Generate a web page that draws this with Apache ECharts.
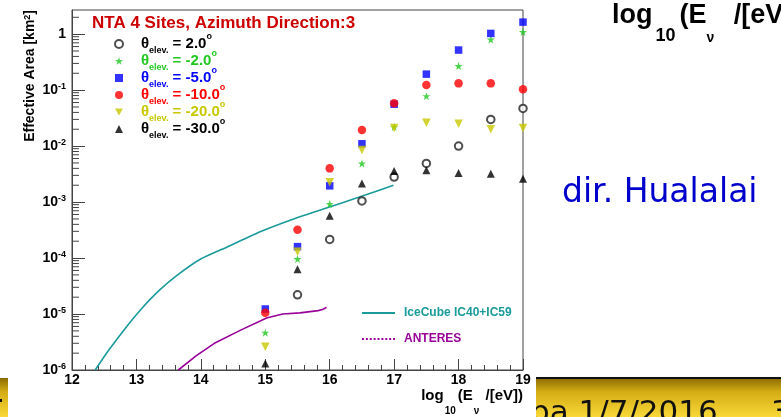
<!DOCTYPE html>
<html>
<head>
<meta charset="utf-8">
<script src="https://cdn.jsdelivr.net/npm/echarts@6/dist/echarts.min.js"></script>
<style>
  html, body { margin: 0; padding: 0; background: #fff; }
  #chart { width: 781px; height: 417px; }
</style>
</head>
<body>
<div id="chart"></div>
<script>
// Neutrino energies, log10(E/eV)
const energies = [15, 15.5, 16, 16.5, 17, 17.5, 18, 18.5, 19];

// Effective area [km^2] per elevation angle
const elevLabels = ['2.0', '-2.0', '-5.0', '-10.0', '-20.0', '-30.0'];
const areaElevP2   = [null,   2.2e-5, 2.15e-4, 1.05e-3, 2.8e-3, 4.9e-3, 1.0e-2, 3.0e-2, 4.7e-2];
const areaElevM2   = [4.65e-6, 9.6e-5, 9.2e-4,  4.9e-3,  2.2e-2, 7.8e-2, 0.27,   0.80,   1.09];
const areaElevM5   = [1.23e-5, 1.6e-4, 1.95e-3, 1.1e-2,  5.6e-2, 0.193,  0.52,   1.03,   1.64];
const areaElevM10  = [1.05e-5, 3.2e-4, 4.0e-3,  1.94e-2, 5.8e-2, 0.123,  0.132,  0.132,  0.104];
const areaElevM20  = [2.6e-6,  1.3e-4, 2.25e-3, 8.5e-3,  2.1e-2, 2.6e-2, 2.5e-2, 2.0e-2, 2.1e-2];
const areaElevM30  = [1.3e-6,  6.3e-5, 5.7e-4,  2.15e-3, 3.6e-3, 3.7e-3, 3.3e-3, 3.2e-3, 2.6e-3];

// Reference curves
const iceCubeE    = [12.36, 12.58, 12.85, 13.10, 13.37, 13.64, 13.99, 14.41, 14.92, 15.44, 15.96, 16.46, 16.99];
const iceCubeArea = [1.0e-6, 2.34e-6, 6.0e-6, 1.32e-5, 2.75e-5, 5.0e-5, 9.5e-5, 1.58e-4, 2.95e-4, 5.0e-4, 7.9e-4, 1.23e-3, 2.0e-3];
const antaresE    = [13.65, 13.93, 14.21, 14.61, 15.02, 15.27, 15.54, 15.82, 15.89, 15.95];
const antaresArea = [1.0e-6, 1.8e-6, 3.0e-6, 5.1e-6, 8.5e-6, 1.0e-5, 1.05e-5, 1.15e-5, 1.2e-5, 1.32e-5];

// Axis settings
const X_MIN = 12, X_MAX = 19;
const Y_MIN = 1e-6, Y_MAX = 2.7;
const yDecades = [-6, -5, -4, -3, -2, -1, 0];
const yMinorMultipliers = [2, 3, 4, 5, 6, 7, 8, 9];

const FONT = '"Liberation Sans", Arial, Helvetica, sans-serif';
const AXIS_COLOR = '#444';

const STAR = 'path://M0,-10L2.4,-3.2L9.5,-3.1L3.8,1.2L5.9,8.1L0,4L-5.9,8.1L-3.8,1.2L-9.5,-3.1L-2.4,-3.2Z';
const DOWN_TRIANGLE = 'path://M0,0L10,0L5,9Z';
const LINE_ICON = 'path://M0,0h34v2h-34z';
const DOTTED_ICON = 'path://M0,0h2v2h-2zM4,0h2v2h-2zM8,0h2v2h-2zM12,0h2v2h-2zM16,0h2v2h-2zM20,0h2v2h-2zM24,0h2v2h-2zM28,0h2v2h-2zM32,0h2v2h-2z';

const elevStyles = [
  { values: areaElevP2,  symbol: 'emptyCircle', size: 7.5, color: '#222', text: '#000', border: 1.2 },
  { values: areaElevM2,  symbol: STAR,          size: 8,   color: '#22c822', text: '#22c822' },
  { values: areaElevM5,  symbol: 'rect',        size: 7.5, color: '#0000ff', text: '#0000ff' },
  { values: areaElevM10, symbol: 'circle',      size: 8.5, color: '#ff0000', text: '#ff0000' },
  { values: areaElevM20, symbol: DOWN_TRIANGLE, size: 8.5, color: '#c8c800', text: '#c8c800' },
  { values: areaElevM30, symbol: 'triangle',    size: 8,   color: '#000', text: '#000' }
];

function pairs(xs, ys) {
  const out = [];
  xs.forEach((x, i) => { if (ys[i] != null) out.push([x, ys[i]]); });
  return out;
}

const scatterSeries = elevStyles.map((s, i) => ({
  name: elevLabels[i],
  type: 'scatter',
  data: pairs(energies, s.values),
  symbol: s.symbol,
  symbolSize: s.size,
  itemStyle: s.symbol === 'emptyCircle'
    ? { color: s.color, borderColor: s.color, borderWidth: s.border }
    : { color: s.color },
  z: 3 + i,
  silent: true
}));

// Log-axis minor ticks (2..9 x 10^n), drawn inward from the left frame
const minorTickValues = [];
yDecades.forEach(d => yMinorMultipliers.forEach(m => {
  const v = m * Math.pow(10, d);
  if (v <= Y_MAX) minorTickValues.push([X_MIN, v]);
}));

const LEG_LH = 23;
function legendRich(color) {
  const base = { fontFamily: FONT, fontWeight: 'bold', color: color, lineHeight: LEG_LH };
  return {
    g: { width: 13, lineHeight: LEG_LH },
    t: Object.assign({}, base, { fontSize: 15, verticalAlign: 'middle' }),
    s: Object.assign({}, base, { fontSize: 9, verticalAlign: 'bottom' }),
    m: Object.assign({}, base, { fontSize: 15, verticalAlign: 'middle' }),
    p: Object.assign({}, base, { fontSize: 9, verticalAlign: 'top' })
  };
}

const gold = () => new echarts.graphic.LinearGradient(0, 0, 0, 1, [
  { offset: 0, color: '#8a6a00' },
  { offset: 0.35, color: '#d4ac14' },
  { offset: 1, color: '#f8d838' }
]);

const chart = echarts.init(document.getElementById('chart'), null, { renderer: 'canvas' });

const option = {
  backgroundColor: '#fff',
  animation: false,
  title: {
    text: 'NTA 4 Sites, Azimuth Direction:3',
    left: 92, top: 15, padding: 0,
    textStyle: { fontFamily: FONT, fontWeight: 'bold', fontSize: 17, color: '#cc0000' }
  },
  grid: {
    left: 72, right: 258, top: 10, bottom: 47,
    show: true, borderColor: AXIS_COLOR, borderWidth: 1, backgroundColor: 'transparent',
    outerBoundsMode: 'none'
  },
  legend: [
    {
      orient: 'vertical', left: 114, top: 44 - LEG_LH / 2, padding: 0, itemGap: 17 - LEG_LH,
      itemWidth: 8, itemHeight: 8, selectedMode: false,
      data: elevLabels.map((n, i) => ({
        name: n,
        textStyle: { color: elevStyles[i].text, rich: legendRich(elevStyles[i].text) }
      })),
      formatter: name => '{g|}{t|θ}{s|elev.}{m| = ' + name + '}{p|o}',
      textStyle: { fontFamily: FONT, fontWeight: 'bold', fontSize: 15 }
    },
    {
      orient: 'vertical', left: 362, top: 307, padding: 0, itemGap: 14,
      itemWidth: 33, itemHeight: 2, selectedMode: false,
      data: [
        { name: 'IceCube IC40+IC59', icon: LINE_ICON, textStyle: { color: '#1a9a9a' } },
        { name: 'ANTERES', icon: DOTTED_ICON, textStyle: { color: '#990099' } }
      ],
      formatter: name => '{g|}' + name,
      textStyle: { fontFamily: FONT, fontWeight: 'bold', fontSize: 12, rich: { g: { width: 4 } } }
    }
  ],
  xAxis: {
    type: 'value', min: X_MIN, max: X_MAX, interval: 1,
    name: '{m|log}{s|10}{m|(E}{s|ν}{m| /[eV])}',
    nameLocation: 'end', nameGap: 0,
    nameTextStyle: {
      align: 'right', verticalAlign: 'top', padding: [18, 0, 0, 0], color: '#000',
      rich: {
        m: { fontFamily: FONT, fontWeight: 'bold', fontSize: 15, verticalAlign: 'top', lineHeight: 28, color: '#000' },
        s: { fontFamily: FONT, fontWeight: 'bold', fontSize: 10, verticalAlign: 'bottom', lineHeight: 28, color: '#000', padding: [0, 2, 0, 1] }
      }
    },
    axisLine: { show: true, onZero: false, lineStyle: { color: AXIS_COLOR, width: 1 } },
    axisTick: { show: true, inside: true, length: 11, lineStyle: { color: AXIS_COLOR } },
    minorTick: { show: true, splitNumber: 5, length: 5, lineStyle: { color: AXIS_COLOR } },
    splitLine: { show: false },
    axisLabel: { fontFamily: FONT, fontWeight: 'bold', fontSize: 14, color: '#000', margin: 3 }
  },
  yAxis: {
    type: 'log', logBase: 10, min: Y_MIN, max: Y_MAX, interval: 1,
    name: 'Effective Area [km{p|2}]',
    nameLocation: 'end', nameGap: 0, nameRotate: 90,
    nameTextStyle: {
      fontFamily: FONT, fontWeight: 'bold', fontSize: 14, color: '#000',
      align: 'right', verticalAlign: 'bottom', padding: [0, 0, 35, 0],
      rich: { p: { fontFamily: FONT, fontWeight: 'bold', fontSize: 9, verticalAlign: 'top', color: '#000' } }
    },
    axisLine: { show: true, onZero: false, lineStyle: { color: AXIS_COLOR, width: 1 } },
    axisTick: { show: true, inside: true, length: 13, lineStyle: { color: AXIS_COLOR } },
    minorTick: { show: false },
    splitLine: { show: false },
    axisLabel: {
      showMaxLabel: false, margin: 6, color: '#000',
      formatter: v => {
        const e = Math.round(Math.log10(v));
        return e === 0 ? '{b|1}' : '{b|10}{e|' + e + '}';
      },
      rich: {
        b: { fontFamily: FONT, fontWeight: 'bold', fontSize: 14, verticalAlign: 'middle', lineHeight: 16, color: '#000' },
        e: { fontFamily: FONT, fontWeight: 'bold', fontSize: 9, verticalAlign: 'top', lineHeight: 16, color: '#000' }
      }
    }
  },
  series: [
    {
      name: 'yMinorTicks', type: 'custom', silent: true, clip: false, z: 2,
      data: minorTickValues,
      encode: { x: 0, y: 1 },
      renderItem: (params, api) => {
        const p = api.coord([api.value(0), api.value(1)]);
        return {
          type: 'line',
          shape: { x1: p[0], y1: p[1], x2: p[0] + 7, y2: p[1] },
          style: { stroke: AXIS_COLOR, lineWidth: 1 }
        };
      }
    },
    {
      name: 'IceCube IC40+IC59', type: 'line', data: pairs(iceCubeE, iceCubeArea),
      symbol: 'none', showSymbol: false, silent: true, z: 2, smooth: 0.2,
      lineStyle: { color: '#1a9a9a', width: 1.6 }, itemStyle: { color: '#1a9a9a' }
    },
    {
      name: 'ANTERES', type: 'line', data: pairs(antaresE, antaresArea),
      symbol: 'none', showSymbol: false, silent: true, z: 2,
      lineStyle: { color: '#990099', width: 1.6 }, itemStyle: { color: '#990099' }
    }
  ].concat(scatterSeries),
  graphic: [
    {
      type: 'text', left: 612, top: 2, z: 10,
      style: {
        text: '{m|log}{s|10}{m|(E}{n|ν}{m| /[eV])}',
        rich: {
          m: { fontFamily: FONT, fontWeight: 'bold', fontSize: 27, verticalAlign: 'top', lineHeight: 43, fill: '#000' },
          s: { fontFamily: FONT, fontWeight: 'bold', fontSize: 18, verticalAlign: 'bottom', lineHeight: 43, fill: '#000', padding: [0, 4, 0, 3] },
          n: { fontFamily: FONT, fontWeight: 'bold', fontSize: 14, verticalAlign: 'bottom', lineHeight: 43, fill: '#000', padding: [0, 12, 0, 0] }
        }
      }
    },
    {
      type: 'text', left: 562, top: 177, z: 10,
      style: { text: 'dir. Hualalai', fontFamily: '"Comic Sans MS", "DejaVu Sans", sans-serif', fontSize: 33, fill: '#0000cc' }
    },
    { type: 'rect', shape: { x: 536, y: 378, width: 245, height: 39 }, z: 10, style: { fill: gold() } },
    { type: 'rect', shape: { x: 536, y: 377, width: 245, height: 2 }, z: 11, style: { fill: '#111' } },
    {
      type: 'text', x: 530, y: 398, z: 12,
      style: { text: 'pa 1/7/2016', fontFamily: '"DejaVu Sans", sans-serif', fontSize: 31, fill: '#111', verticalAlign: 'top' }
    },
    {
      type: 'text', x: 771, y: 398, z: 12,
      style: { text: '3', fontFamily: '"DejaVu Sans", sans-serif', fontSize: 31, fill: '#111', verticalAlign: 'top' }
    },
    { type: 'rect', shape: { x: 527, y: 392, width: 9, height: 25 }, z: 13, style: { fill: '#fff' } },
    { type: 'rect', shape: { x: 0, y: 378, width: 8, height: 39 }, z: 10, style: { fill: gold() } },
    { type: 'rect', shape: { x: 0, y: 399, width: 2, height: 3 }, z: 11, style: { fill: '#111' } }
  ]
};

chart.setOption(option);
</script>
</body>
</html>
